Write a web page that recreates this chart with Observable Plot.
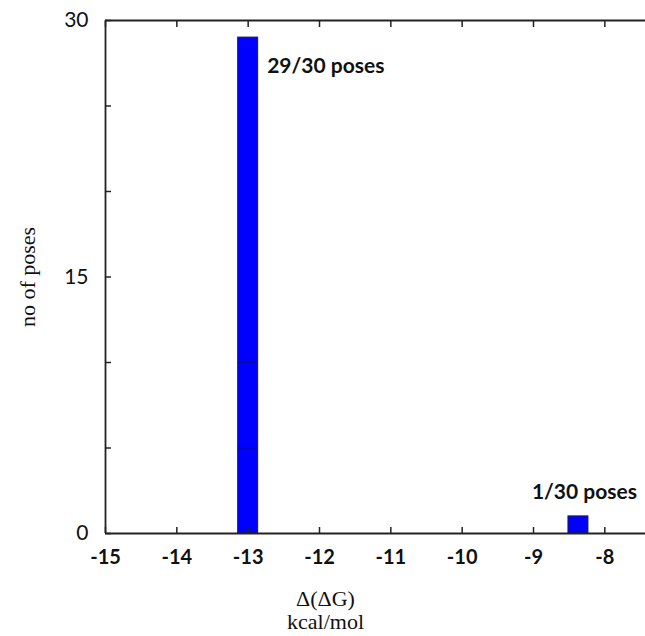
<!DOCTYPE html>
<html><head><meta charset="utf-8">
<script src="https://cdn.jsdelivr.net/npm/d3@7"></script>
<script src="https://cdn.jsdelivr.net/npm/@observablehq/plot@0.6"></script>
<style>body{margin:0;background:#fff} #chart{width:645px;height:636px}</style>
</head><body><div id="chart"></div>
<script>
const binCenters = [-13, -8.37];
const poseCounts = [29, 1];
const poseLabels = ["29/30 poses", "1/30 poses"];
const barWidth = 0.28;
const xTicks = [-15, -14, -13, -12, -11, -10, -9, -8];
const yTickLabels = [0, 15, 30];
const yTicks = [0, 5, 10, 15, 20, 25, 30];
const innerLines = [5, 10];
const xDomain = [-15, -7.43];
const yDomain = [0, 30];
const xLabelLines = ["Δ(ΔG)", "kcal/mol"];
const yLabel = "no of poses";

const bars = binCenters.map((c, i) => ({
  x1: c - barWidth / 2, x2: c + barWidth / 2, center: c,
  count: poseCounts[i], label: poseLabels[i]
}));
const sans = "Lato, 'Open Sans', sans-serif";
const serif = "'Liberation Serif', 'DejaVu Serif', serif";
const axisColor = "#222";

const plot = Plot.plot({
  width: 645, height: 636,
  marginTop: 20, marginBottom: 103, marginLeft: 105, marginRight: 0,
  x: {domain: xDomain, label: null},
  y: {domain: yDomain, label: null},
  style: {background: "#fff", color: "#111"},
  marks: [
    Plot.rectY(bars, {x1: "x1", x2: "x2", y: "count", fill: "#0000ff", stroke: "#1a1a40", strokeWidth: 1}),
    Plot.ruleY(innerLines, {x1: bars[0].x1, x2: bars[0].x2, stroke: "#101050", strokeOpacity: 0.55}),
    Plot.ruleY(yDomain, {stroke: axisColor, strokeWidth: 1.8}),
    Plot.ruleX([xDomain[0]], {stroke: axisColor, strokeWidth: 1.8}),
    Plot.axisX(xTicks, {anchor: "bottom", tickSize: -6, tickFormat: () => "", stroke: axisColor, strokeWidth: 1.5}),
    Plot.axisX(xTicks, {anchor: "top", tickSize: -6, tickFormat: () => "", stroke: axisColor, strokeWidth: 1.5}),
    Plot.axisY(yTicks, {anchor: "left", tickSize: -6, tickFormat: () => "", stroke: axisColor, strokeWidth: 1.5}),
    Plot.axisX(xTicks, {anchor: "bottom", tickSize: 0, tickPadding: 16, tickFormat: d => String(d), fontSize: 20, fontWeight: "bold", fontFamily: sans}),
    Plot.axisY(yTickLabels, {anchor: "left", tickSize: 0, tickPadding: 17, tickFormat: d => String(d), fontSize: 21, fontFamily: sans}),
    Plot.text([bars[0]], {x: "x2", y: "count", text: "label", textAnchor: "start", dx: 9, dy: 29, fontSize: 21, fontWeight: "bold", fontFamily: sans}),
    Plot.text([bars[1]], {x: "center", y: "count", text: "label", dx: 6, dy: -24, fontSize: 21, fontWeight: "bold", fontFamily: sans}),
    Plot.text([xLabelLines.join("\n")], {frameAnchor: "bottom", textAnchor: "middle", lineAnchor: "middle", dx: -50, dy: 77, lineHeight: 1.05, fontSize: 22, fontFamily: serif}),
    Plot.text([yLabel], {frameAnchor: "left", textAnchor: "middle", lineAnchor: "middle", rotate: -90, dx: -78, fontSize: 22, fontFamily: serif})
  ]
});
document.getElementById("chart").append(plot);
</script></body></html>
